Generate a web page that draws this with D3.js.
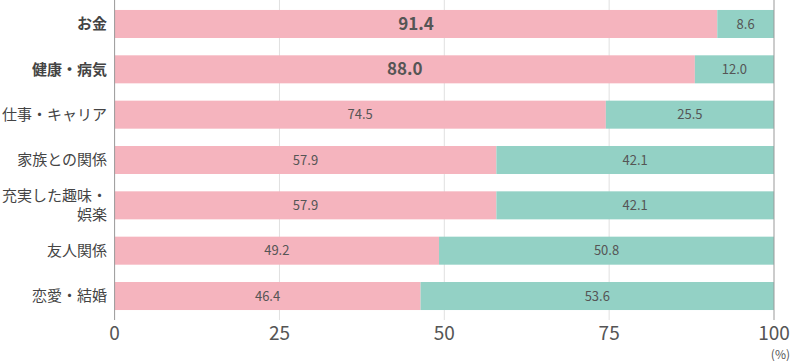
<!DOCTYPE html>
<html>
<head>
<meta charset="utf-8">
<script src="https://cdn.jsdelivr.net/npm/d3@7"></script>
<style>
  body { margin: 0; background: #fff; }
  svg text { font-family: "Noto Sans CJK JP", "Noto Sans", sans-serif; }
</style>
</head>
<body>
<div id="chart"></div>
<script>
const categories = ['お金', '健康・病気', '仕事・キャリア', '家族との関係', '充実した趣味・\n娯楽', '友人関係', '恋愛・結婚'];
const pinkValues = [91.4, 88.0, 74.5, 57.9, 57.9, 49.2, 46.4];
const tealValues = [8.6, 12.0, 25.5, 42.1, 42.1, 50.8, 53.6];
const highlighted = [true, true, false, false, false, false, false];
const tickValues = [0, 25, 50, 75, 100];

const width = 792, height = 361;
const svg = d3.select('#chart').append('svg')
    .attr('width', width)
    .attr('height', height);

const x = d3.scaleLinear().domain([0, 100]).range([114.6, 774]);
const y = d3.scaleBand()
    .domain(d3.range(categories.length))
    .range([0, 320])
    .paddingInner(0.382)
    .paddingOuter(0.22);

// grid lines
svg.append('g')
    .selectAll('line')
    .data(tickValues.slice(1, -1))
    .join('line')
    .attr('x1', d => x(d)).attr('x2', d => x(d))
    .attr('y1', 0).attr('y2', 320)
    .style('stroke', '#e0e0e0')
    .style('stroke-width', 1);

const rows = svg.append('g')
    .selectAll('g')
    .data(categories)
    .join('g')
    .attr('transform', (d, i) => `translate(0,${y(i)})`);

// pink segment
rows.append('rect')
    .attr('x', x(0))
    .attr('width', (d, i) => x(pinkValues[i]) - x(0))
    .attr('height', y.bandwidth())
    .style('fill', '#f5b4be');

// teal segment
rows.append('rect')
    .attr('x', (d, i) => x(pinkValues[i]))
    .attr('width', (d, i) => x(100) - x(pinkValues[i]))
    .attr('height', y.bandwidth())
    .style('fill', '#93d1c5');

// value labels
rows.append('text')
    .attr('x', (d, i) => (x(0) + x(pinkValues[i])) / 2)
    .attr('y', y.bandwidth() / 2)
    .attr('dy', '0.36em')
    .attr('text-anchor', 'middle')
    .style('font-size', (d, i) => highlighted[i] ? '17px' : '13px')
    .style('font-weight', (d, i) => highlighted[i] ? 'bold' : 'normal')
    .style('fill', '#555')
    .text((d, i) => pinkValues[i].toFixed(1));

rows.append('text')
    .attr('x', (d, i) => (x(pinkValues[i]) + x(100)) / 2)
    .attr('y', y.bandwidth() / 2)
    .attr('dy', '0.36em')
    .attr('text-anchor', 'middle')
    .style('font-size', '13px')
    .style('fill', '#555')
    .text((d, i) => tealValues[i].toFixed(1));

// category labels
rows.each(function(d, i) {
    const lines = d.split('\n');
    const t = d3.select(this).append('text')
        .attr('x', 107)
        .attr('text-anchor', 'end')
        .style('font-size', '15px')
        .style('font-weight', highlighted[i] ? 'bold' : 'normal')
        .style('fill', '#444');
    lines.forEach((line, k) => {
        t.append('tspan')
            .attr('x', 107)
            .attr('y', y.bandwidth() / 2 + (k - (lines.length - 1) / 2) * 19)
            .attr('dy', '0.36em')
            .text(line);
    });
});

// left axis line and 100 line
svg.append('line')
    .attr('x1', x(0)).attr('x2', x(0))
    .attr('y1', 0).attr('y2', 320)
    .style('stroke', '#999');
svg.append('line')
    .attr('x1', x(100)).attr('x2', x(100))
    .attr('y1', 0).attr('y2', 320)
    .style('stroke', '#999');

// tick labels
svg.append('g')
    .selectAll('text')
    .data(tickValues)
    .join('text')
    .attr('x', d => x(d))
    .attr('y', 340)
    .attr('text-anchor', 'middle')
    .style('font-size', '19px')
    .style('fill', '#555')
    .text(d => d);

svg.append('text')
    .attr('x', 790)
    .attr('y', 359)
    .attr('text-anchor', 'end')
    .style('font-size', '12px')
    .style('fill', '#555')
    .text('(%)');
</script>
</body>
</html>
